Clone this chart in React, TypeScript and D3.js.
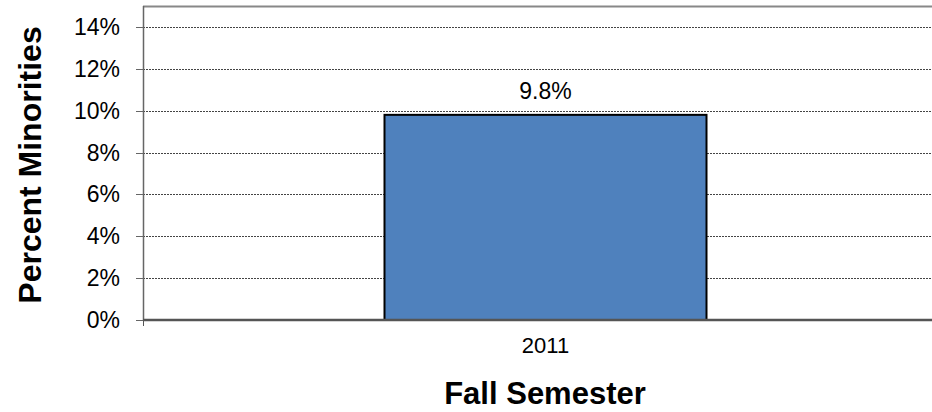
import React, { useEffect, useRef } from 'react';
import * as d3 from 'd3';

const categories = ['2011'];
const values = [9.8];
const yTicks = [0, 2, 4, 6, 8, 10, 12, 14];

const W = 932;
const H = 412;
const FONT = 'Arial, "Liberation Sans", sans-serif';

export default function App() {
  const svgRef = useRef<SVGSVGElement>(null);

  useEffect(() => {
    if (!svgRef.current) return;
    const margin = { top: 6, right: -16, bottom: 92, left: 143 };
    const innerW = W - margin.left - margin.right;
    const innerH = H - margin.top - margin.bottom;

    const svg = d3.select(svgRef.current);
    svg.selectAll('*').remove();

    const x = d3.scaleBand().domain(categories).range([0, innerW]).paddingInner(0.6).paddingOuter(0.3);
    const y = d3.scaleLinear().domain([0, 15]).range([innerH, 0]);

    const g = svg.append('g').attr('transform', `translate(${margin.left},${margin.top})`);

    // top border
    g.append('line')
      .attr('x1', 0).attr('x2', innerW).attr('y1', 0.5).attr('y2', 0.5)
      .attr('stroke', '#888').attr('stroke-width', 2);

    // grid lines
    g.selectAll('.grid')
      .data(yTicks.filter(t => t > 0))
      .enter().append('line')
      .attr('x1', 0).attr('x2', innerW)
      .attr('y1', d => Math.round(y(d)) + 0.5).attr('y2', d => Math.round(y(d)) + 0.5)
      .attr('stroke', '#444').attr('stroke-width', 1).attr('stroke-dasharray', '2,1');

    // bars
    g.selectAll('.bar')
      .data(values)
      .enter().append('rect')
      .attr('x', (d, i) => x(categories[i])!)
      .attr('y', d => y(d))
      .attr('width', x.bandwidth())
      .attr('height', d => innerH - y(d))
      .attr('fill', '#4f81bd')
      .attr('stroke', '#000')
      .attr('stroke-width', 2);

    // value labels
    g.selectAll('.val')
      .data(values)
      .enter().append('text')
      .attr('x', (d, i) => x(categories[i])! + x.bandwidth() / 2)
      .attr('y', d => y(d) - 16)
      .attr('text-anchor', 'middle')
      .attr('font-family', FONT)
      .attr('font-size', 23)
      .attr('fill', '#000')
      .text(d => `${d.toFixed(1)}%`);

    // y axis
    g.append('line')
      .attr('x1', 0.5).attr('x2', 0.5).attr('y1', 0).attr('y2', innerH)
      .attr('stroke', '#666').attr('stroke-width', 1.5);
    const yt = g.selectAll('.yt').data(yTicks).enter();
    yt.append('line')
      .attr('x1', -7).attr('x2', 0)
      .attr('y1', d => Math.round(y(d)) + 0.5).attr('y2', d => Math.round(y(d)) + 0.5)
      .attr('stroke', '#666');
    yt.append('text')
      .attr('x', -23)
      .attr('y', d => y(d))
      .attr('dy', '0.35em')
      .attr('text-anchor', 'end')
      .attr('font-family', FONT)
      .attr('font-size', 23)
      .attr('fill', '#000')
      .text(d => `${d}%`);

    // x axis
    g.append('line')
      .attr('x1', 0).attr('x2', innerW).attr('y1', innerH).attr('y2', innerH)
      .attr('stroke', '#555').attr('stroke-width', 2.5);
    g.append('line')
      .attr('x1', 0.5).attr('x2', 0.5).attr('y1', innerH).attr('y2', innerH + 6)
      .attr('stroke', '#555');
    g.selectAll('.xl')
      .data(categories)
      .enter().append('text')
      .attr('x', d => x(d)! + x.bandwidth() / 2)
      .attr('y', innerH + 33)
      .attr('text-anchor', 'middle')
      .attr('font-family', FONT)
      .attr('font-size', 22)
      .attr('fill', '#000')
      .text(d => d);

    // axis titles
    svg.append('text')
      .attr('x', 545)
      .attr('y', 404)
      .attr('text-anchor', 'middle')
      .attr('font-family', FONT)
      .attr('font-weight', 'bold')
      .attr('font-size', 31)
      .attr('fill', '#000')
      .text('Fall Semester');

    svg.append('text')
      .attr('transform', `translate(41,${margin.top + innerH / 2 + 2}) rotate(-90)`)
      .attr('text-anchor', 'middle')
      .attr('font-family', FONT)
      .attr('font-weight', 'bold')
      .attr('font-size', 32)
      .attr('fill', '#000')
      .text('Percent Minorities');
  }, []);

  return (
    <svg ref={svgRef} width={W} height={H}
      style={{ position: 'absolute', left: 0, top: 0, background: '#fff' }} />
  );
}
